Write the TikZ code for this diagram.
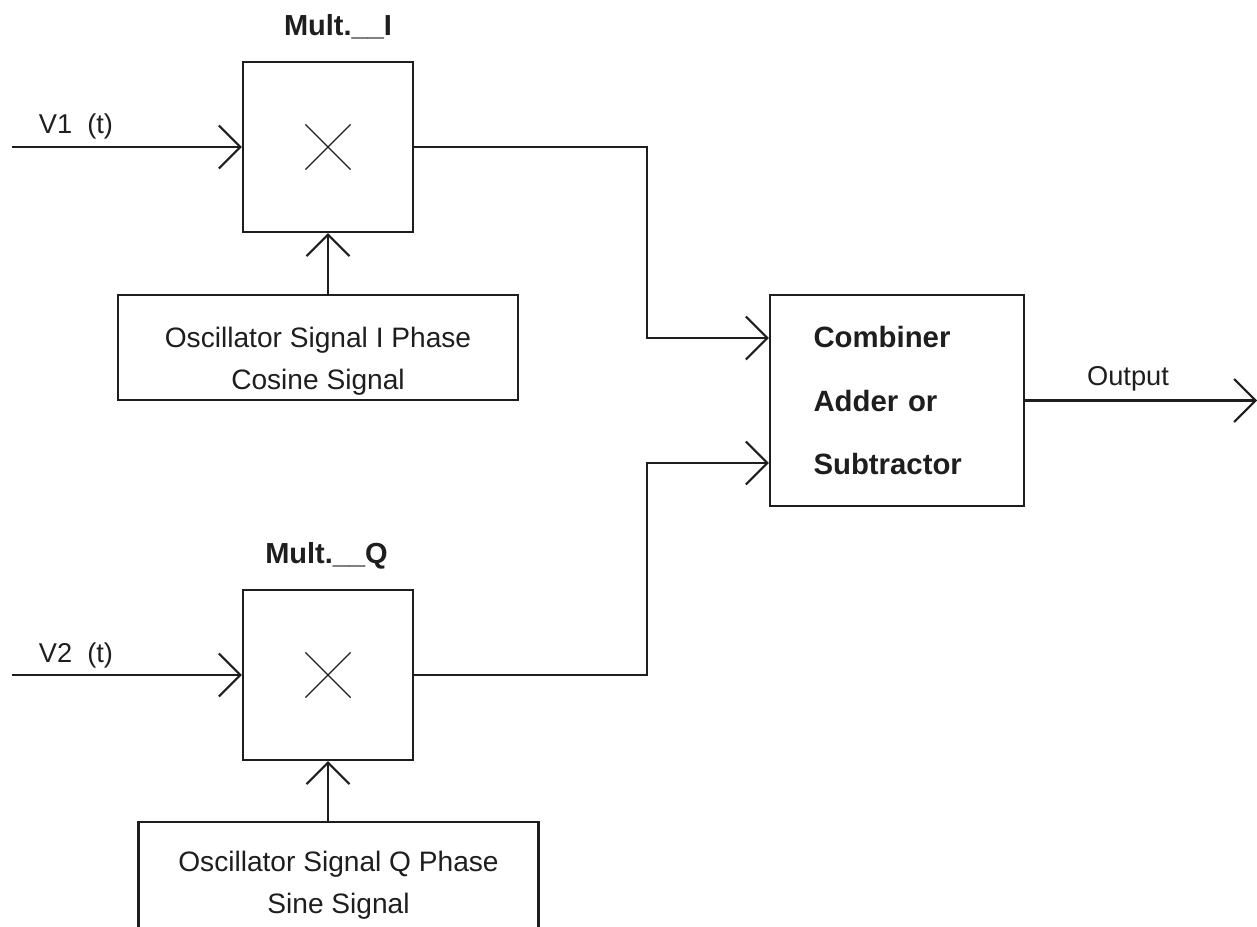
\documentclass[tikz,border=0pt]{standalone}
\usepackage{fontspec}
\setmainfont{Liberation Sans}
\usepackage{tikz}
\usetikzlibrary{positioning,arrows.meta,shapes.misc}
\definecolor{inkgray}{RGB}{30,30,30}

\begin{document}
\begin{tikzpicture}[
    color=inkgray, line width=1.2pt,
    mult/.style={draw, minimum width=3.4cm, minimum height=3.4cm},
    times/.style={draw, cross out, line width=0.7pt, minimum size=0.88cm, inner sep=0pt},
    osc/.style={draw, minimum width=8cm, minimum height=2.1cm},
    osctxt/.style={align=center, font=\fontsize{16}{24}\selectfont},
    comb/.style={draw, minimum width=5.08cm, minimum height=4.22cm, align=left,
                 text width=3.34cm, font=\bfseries\fontsize{16.7}{36}\selectfont},
    ttl/.style={anchor=base, font=\bfseries\fontsize{16.5}{20}\selectfont},
    sig/.style={anchor=base west, font=\fontsize{15.5}{19}\selectfont},
    arr/.style={-{Straight Barb[length=0.43cm, width=0.86cm]}}
  ]
  \useasboundingbox (0,0) rectangle (25.14,-18.52);
  \clip (0,0) rectangle (25.14,-18.52);

  \node[mult] (multI) at (6.56,-2.94) {};
  \node[mult] (multQ) at (6.56,-13.50) {};
  \node[times] (xI) at (multI) {};
  \node[times] (xQ) at (multQ) {};
  \node[ttl] (ttlI) at (6.76,-0.70) {Mult.\_\_I};
  \node[ttl] (ttlQ) at (6.53,-11.26) {Mult.\_\_Q};

  \node[osc] (oscI) at (6.36,-6.95) {};
  \node[osc, minimum height=2.12cm] (oscQ) at (6.77,-17.50) {};
  \node[osctxt] (oscItxt) at ([yshift=-0.27cm]oscI.center)
       {Oscillator Signal I Phase\\Cosine Signal};
  \node[osctxt] (oscQtxt) at ([yshift=-0.2cm]oscQ.center)
       {Oscillator Signal Q Phase\\Sine Signal};
  \node[comb] (comb) at (17.94,-8.01) {Combiner\\Adder or\\Subtractor};

  \node[sig] (sigI) at (0.64,-2.66) {V1\ \ (t)};
  \node[sig] (sigQ) at (0.64,-13.24) {V2\ \ (t)};
  \node[sig, anchor=base] (sigOut) at (22.56,-7.70) {Output};

  \coordinate (inV1) at (0.24,-2.94);
  \coordinate (inV2) at (0.24,-13.50);
  \coordinate (outEnd) at ([xshift=4.64cm]comb.east);

  \draw[arr] (inV1) -- (multI.west);
  \draw[arr] (inV2) -- (multQ.west);
  \draw[arr] (multI.south |- oscI.north) -- (multI.south);
  \draw[arr] (multQ.south |- oscQ.north) -- (multQ.south);
  \draw[arr] (multI.east) -- ++(4.66,0) |- ([yshift=1.25cm]comb.west);
  \draw[arr] (multQ.east) -- ++(4.66,0) |- ([yshift=-1.25cm]comb.west);
  \draw[arr] (comb.east) -- (outEnd);
\end{tikzpicture}
\end{document}
